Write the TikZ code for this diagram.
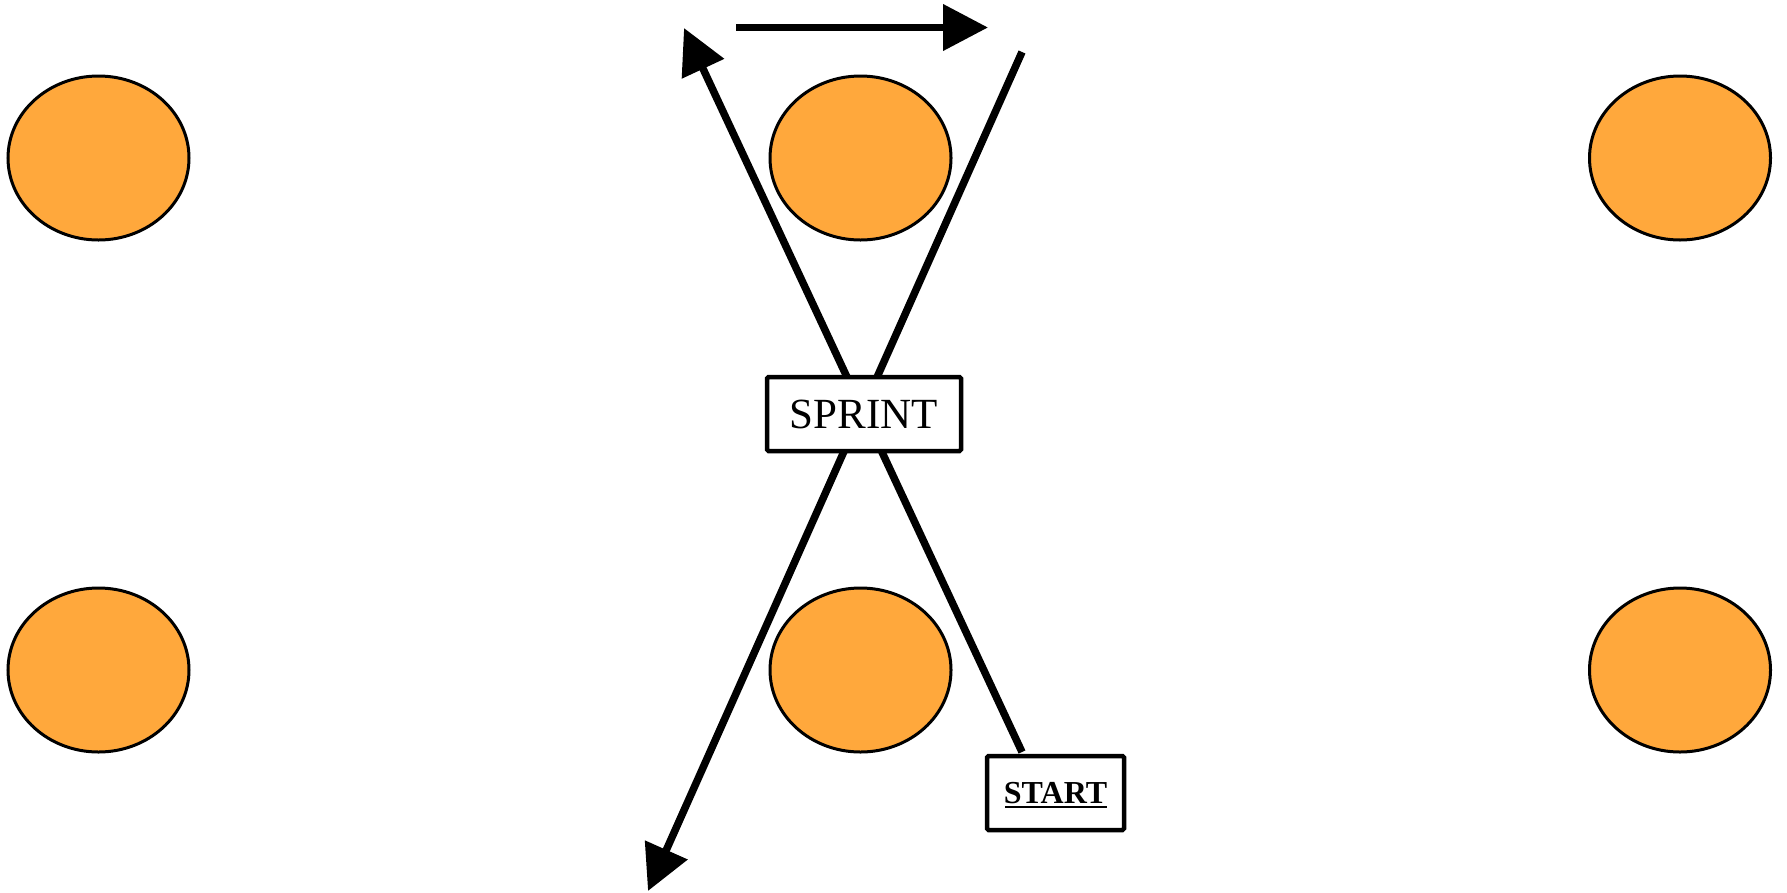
\documentclass[tikz,border=0pt]{standalone}
\usepackage{fontspec}
\setmainfont{Liberation Serif}
\usetikzlibrary{shapes.geometric,arrows.meta}
\definecolor{cone}{RGB}{255,168,60}
\tikzset{
  conestyle/.style={ellipse,draw=black,line width=3pt,fill=cone,minimum width=181pt,minimum height=164pt,inner sep=0pt},
  labelbox/.style={draw=black,line width=4.5pt,fill=white,rounded corners=1.5pt,inner sep=0pt},
  run/.style={line width=7.5pt,-{Triangle[length=45pt,width=45pt]}}
}
\begin{document}
\begin{tikzpicture}[x=1pt,y=-1pt]
\useasboundingbox (0,0) rectangle (1787,892);
\fill[white] (0,0) rectangle (1787,892);
% cones
\node[conestyle] (c1) at (98.5,158) {};
\node[conestyle] (c2) at (860.5,158) {};
\node[conestyle] (c3) at (1680,158) {};
\node[conestyle] (c4) at (98.5,670) {};
\node[conestyle] (c5) at (860.5,670) {};
\node[conestyle] (c6) at (1680,670) {};
% run path coordinates
\coordinate (p1) at (1022,752);
\coordinate (p2) at (684,28);
\coordinate (p3) at (736,27.5);
\coordinate (p4) at (988,27.5);
\coordinate (p5) at (1022,52);
\coordinate (p6) at (648,891);
\draw[run] (p1) -- (p2);
\draw[run] (p3) -- (p4);
\draw[run] (p5) -- (p6);
% labels
\node[labelbox,minimum width=194pt,minimum height=74pt] (sprint) at (864,414)
  {\fontsize{43}{50}\selectfont SPRINT};
\node[labelbox,minimum width=137pt,minimum height=74pt] (start) at (1055.5,793)
  {\fontsize{32}{38}\selectfont\bfseries START};
\coordinate (u1) at (1005,807);
\coordinate (u2) at (1107,807);
\draw[line width=2.5pt] (u1) -- (u2);
\end{tikzpicture}
\end{document}
